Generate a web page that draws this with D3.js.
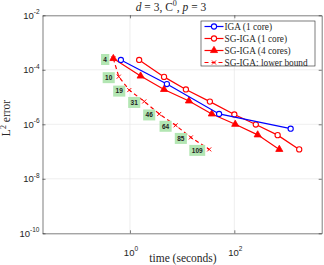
<!DOCTYPE html>
<html>
<head>
<meta charset="utf-8">
<script src="https://cdn.jsdelivr.net/npm/d3@7"></script>
<style>
  body { margin: 0; background: #fff; }
  svg { display: block; }
  .tick-label { font-family: "Liberation Sans", Arial, sans-serif; fill: #262626; }
  .serif { font-family: "Liberation Serif", "DejaVu Serif", serif; fill: #262626; }
</style>
</head>
<body>
<div id="main"></div>
<script>
// Chart data
var igaTime = [0.67, 5.1, 51, 1200];
var igaErr = [2.3e-4, 3.0e-5, 2.4e-6, 6.9e-7];

var sg1Time = [1.5, 4.5, 11.8, 34, 100, 258, 676, 1750];
var sg1Err = [2.3e-4, 5.5e-5, 1.9e-5, 6.8e-6, 2.3e-6, 9.8e-7, 4.0e-7, 1.2e-7];

var sg4Time = [0.48, 1.6, 4.5, 13.5, 37, 104, 280, 727];
var sg4Err = [2.6e-4, 5.9e-5, 1.9e-5, 7.2e-6, 2.4e-6, 1.0e-6, 4.1e-7, 1.2e-7];

var lbTime = [0.48, 0.61, 0.97, 1.88, 3.64, 7.5, 14.7, 33];
var lbErr = [2.6e-4, 5.6e-5, 1.8e-5, 6.9e-6, 2.4e-6, 9.2e-7, 3.3e-7, 1.2e-7];
var lbLabels = ['4', '10', '19', '31', '46', '64', '85', '109'];

var xTicks = [1, 100];
var xTickExp = ['0', '2'];
var yTicks = [1e-2, 1e-4, 1e-6, 1e-8, 1e-10];
var yTickExp = ['-2', '-4', '-6', '-8', '-10'];

var legendNames = ['IGA (1 core)', 'SG-IGA (1 core)', 'SG-IGA (4 cores)', 'SG-IGA: lower bound'];

// sizes
var svgWidth = 324;
var svgHeight = 265;
var plot = {l: 42.5, r: 321.7, t: 15.3, b: 233.3};

var svg = d3.select('#main')
	.append('svg')
	.attr('width', svgWidth)
	.attr('height', svgHeight);

var xScale = d3.scaleLog()
	.domain([Math.pow(10, -1.676), Math.pow(10, 3.674)])
	.range([plot.l, plot.r]);
var yScale = d3.scaleLog()
	.domain([1e-10, 1e-2])
	.range([plot.b, plot.t]);

// grid
svg.append('g').selectAll('line')
	.data(xTicks)
	.enter().append('line')
	.attr('x1', function(d) { return xScale(d); })
	.attr('x2', function(d) { return xScale(d); })
	.attr('y1', plot.t).attr('y2', plot.b)
	.attr('stroke', '#e3e3e3').attr('stroke-width', 0.6);
svg.append('g').selectAll('line')
	.data(yTicks.slice(1, 4))
	.enter().append('line')
	.attr('y1', function(d) { return yScale(d); })
	.attr('y2', function(d) { return yScale(d); })
	.attr('x1', plot.l).attr('x2', plot.r)
	.attr('stroke', '#e3e3e3').attr('stroke-width', 0.6);

// axes (inner ticks on every side, labels drawn by hand for 10^n)
var xAxisB = d3.axisBottom(xScale).tickValues(xTicks).tickSizeInner(-3).tickSizeOuter(0).tickFormat('');
var xAxisT = d3.axisTop(xScale).tickValues(xTicks).tickSizeInner(-3).tickSizeOuter(0).tickFormat('');
var yAxisL = d3.axisLeft(yScale).tickValues(yTicks).tickSizeInner(-3).tickSizeOuter(0).tickFormat('');
var yAxisR = d3.axisRight(yScale).tickValues(yTicks).tickSizeInner(-3).tickSizeOuter(0).tickFormat('');

[[xAxisB, `translate(0,${plot.b})`], [xAxisT, `translate(0,${plot.t})`],
 [yAxisL, `translate(${plot.l},0)`], [yAxisR, `translate(${plot.r},0)`]].forEach(function(a) {
	var g = svg.append('g').attr('transform', a[1]).call(a[0]);
	g.selectAll('path, line').attr('stroke', '#262626').attr('stroke-width', 0.6);
});

// tick labels
var xl = svg.append('g').selectAll('text')
	.data(xTicks)
	.enter().append('text')
	.attr('class', 'tick-label')
	.attr('font-size', 9.5)
	.attr('text-anchor', 'middle')
	.attr('x', function(d) { return xScale(d) + 1; })
	.attr('y', 255.5);
xl.append('tspan').text('10');
xl.append('tspan').attr('dy', -4.5).attr('font-size', 6.5).text(function(d, i) { return xTickExp[i]; });

var yl = svg.append('g').selectAll('text')
	.data(yTicks)
	.enter().append('text')
	.attr('class', 'tick-label')
	.attr('font-size', 9.5)
	.attr('text-anchor', 'end')
	.attr('x', 39.5)
	.attr('y', function(d) { return yScale(d) + 3.3; });
yl.append('tspan').text('10');
yl.append('tspan').attr('dy', -4.5).attr('font-size', 6.5).text(function(d, i) { return yTickExp[i]; });

// axis labels and title
svg.append('text')
	.attr('class', 'serif')
	.attr('font-size', 11.5)
	.attr('text-anchor', 'middle')
	.attr('x', 183).attr('y', 261.5)
	.text('time (seconds)');

var yLab = svg.append('text')
	.attr('class', 'serif')
	.attr('font-size', 11.5)
	.attr('text-anchor', 'middle')
	.attr('transform', 'translate(10,118) rotate(-90)');
yLab.append('tspan').text('L');
yLab.append('tspan').attr('dy', -4.5).attr('font-size', 8).text('2');
yLab.append('tspan').attr('dy', 4.5).text(' error');

var title = svg.append('text')
	.attr('class', 'serif')
	.attr('font-size', 11.5)
	.attr('text-anchor', 'middle')
	.attr('x', 171).attr('y', 10.5);
title.append('tspan').attr('font-style', 'italic').text('d');
title.append('tspan').text(' = 3, C');
title.append('tspan').attr('dy', -4.5).attr('font-size', 8).text('0');
title.append('tspan').attr('dy', 4.5).text(', ');
title.append('tspan').attr('font-style', 'italic').text('p');
title.append('tspan').text(' = 3');

var line = d3.line()
	.x(function(d) { return xScale(d[0]); })
	.y(function(d) { return yScale(d[1]); });

function zipSeries(t, e) {
	return t.map(function(v, i) { return [v, e[i]]; });
}

var series = [
	{data: zipSeries(igaTime, igaErr), color: '#0000ff', marker: 'circle', dash: null},
	{data: zipSeries(sg1Time, sg1Err), color: '#ff0000', marker: 'circle', dash: null},
	{data: zipSeries(sg4Time, sg4Err), color: '#ff0000', marker: 'triangle', dash: null},
	{data: zipSeries(lbTime, lbErr), color: '#ff0000', marker: 'cross', dash: '4,3'}
];

function drawMarker(g, type, x, y, color) {
	if (type === 'circle') {
		g.append('circle').attr('cx', x).attr('cy', y).attr('r', 2.6)
			.attr('fill', '#fff').attr('stroke', color).attr('stroke-width', 1.1);
	} else if (type === 'triangle') {
		g.append('path')
			.attr('d', d3.symbol().type(d3.symbolTriangle).size(22)())
			.attr('transform', `translate(${x},${y})`)
			.attr('fill', color).attr('stroke', color).attr('stroke-width', 0.8);
	} else {
		g.append('path')
			.attr('d', `M${x - 2},${y - 2}L${x + 2},${y + 2}M${x - 2},${y + 2}L${x + 2},${y - 2}`)
			.attr('stroke', color).attr('stroke-width', 1);
	}
}

// draw lower bound first so the solid lines sit above it
series.slice().reverse().forEach(function(s) {
	var g = svg.append('g');
	g.append('path')
		.attr('d', line(s.data))
		.attr('fill', 'none')
		.attr('stroke', s.color)
		.attr('stroke-width', 1.2)
		.attr('stroke-dasharray', s.dash);
	s.data.forEach(function(d) {
		drawMarker(g, s.marker, xScale(d[0]), yScale(d[1]), s.color);
	});
});

// labels beside the lower bound points
var labG = svg.append('g');
lbLabels.forEach(function(lab, i) {
	var px = xScale(lbTime[i]);
	var py = yScale(lbErr[i]) + 1;
	var w = lab.length * 3.8 + 4.5;
	labG.append('rect')
		.attr('x', px - 4 - w).attr('y', py - 5.5)
		.attr('width', w).attr('height', 11)
		.attr('fill', '#b3e6b3');
	labG.append('text')
		.attr('x', px - 4 - w / 2).attr('y', py + 2.3)
		.attr('text-anchor', 'middle')
		.attr('font-family', 'Liberation Sans, Arial, sans-serif')
		.attr('font-weight', 'bold')
		.attr('font-size', 6.5)
		.attr('fill', '#222')
		.text(lab);
});

// legend
var leg = svg.append('g');
leg.append('rect')
	.attr('x', 201).attr('y', 21)
	.attr('width', 114).attr('height', 45)
	.attr('fill', '#fff').attr('stroke', '#262626').attr('stroke-width', 0.6);
legendNames.forEach(function(name, i) {
	var y = 26.5 + i * 12;
	var s = series[i];
	leg.append('line')
		.attr('x1', 204.5).attr('x2', 223.5)
		.attr('y1', y).attr('y2', y)
		.attr('stroke', s.color).attr('stroke-width', 1.2)
		.attr('stroke-dasharray', s.dash);
	drawMarker(leg, s.marker, 214, y, s.color);
	leg.append('text')
		.attr('class', 'serif')
		.attr('font-size', 9.3)
		.attr('x', 224.5).attr('y', y + 3.2)
		.text(name);
});
</script>
</body>
</html>
